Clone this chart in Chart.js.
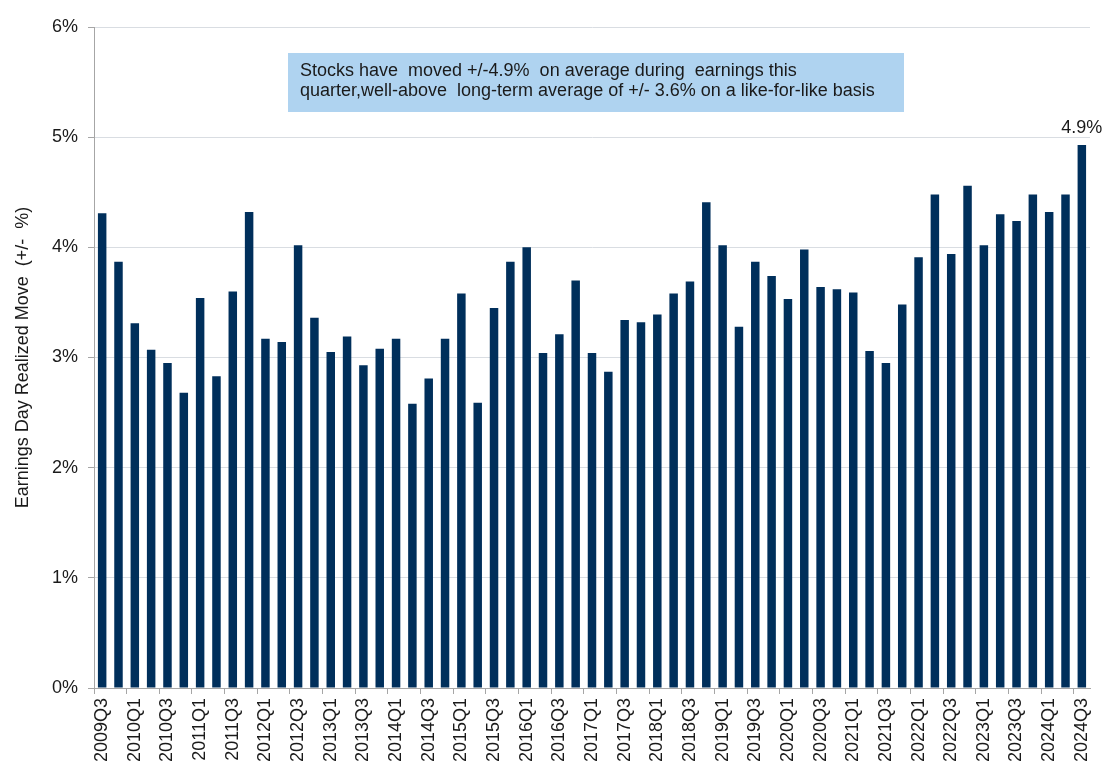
<!DOCTYPE html>
<html>
<head>
<meta charset="utf-8">
<script src="https://cdn.jsdelivr.net/npm/chart.js@4"></script>
<style>
  body { margin: 0; background: #fff; }
</style>
</head>
<body>
<canvas id="chart" width="1116" height="781"></canvas>
<script>
const quarters = [
  '2009Q3', '2009Q4',
  '2010Q1', '2010Q2', '2010Q3', '2010Q4',
  '2011Q1', '2011Q2', '2011Q3', '2011Q4',
  '2012Q1', '2012Q2', '2012Q3', '2012Q4',
  '2013Q1', '2013Q2', '2013Q3', '2013Q4',
  '2014Q1', '2014Q2', '2014Q3', '2014Q4',
  '2015Q1', '2015Q2', '2015Q3', '2015Q4',
  '2016Q1', '2016Q2', '2016Q3', '2016Q4',
  '2017Q1', '2017Q2', '2017Q3', '2017Q4',
  '2018Q1', '2018Q2', '2018Q3', '2018Q4',
  '2019Q1', '2019Q2', '2019Q3', '2019Q4',
  '2020Q1', '2020Q2', '2020Q3', '2020Q4',
  '2021Q1', '2021Q2', '2021Q3', '2021Q4',
  '2022Q1', '2022Q2', '2022Q3', '2022Q4',
  '2023Q1', '2023Q2', '2023Q3', '2023Q4',
  '2024Q1', '2024Q2', '2024Q3'
];

// earnings day realized move, +/- %
const moves = [
  4.31, 3.87,
  3.31, 3.07, 2.95, 2.68,
  3.54, 2.83, 3.60, 4.32,
  3.17, 3.14, 4.02, 3.36,
  3.05, 3.19, 2.93, 3.08,
  3.17, 2.58, 2.81, 3.17,
  3.58, 2.59, 3.45, 3.87,
  4.00, 3.04, 3.21, 3.70,
  3.04, 2.87, 3.34, 3.32,
  3.39, 3.58, 3.69, 4.41,
  4.02, 3.28, 3.87, 3.74,
  3.53, 3.98, 3.64, 3.62,
  3.59, 3.06, 2.95, 3.48,
  3.91, 4.48, 3.94, 4.56,
  4.02, 4.30, 4.24, 4.48,
  4.32, 4.48, 4.93
];

const yTicks = [0, 1, 2, 3, 4, 5, 6];

const noteLines = [
  'Stocks have  moved +/-4.9%  on average during  earnings this',
  'quarter,well-above  long-term average of +/- 3.6% on a like-for-like basis'
];
const lastLabel = '4.9%';

const font = '"Liberation Sans", Arial, sans-serif';
const axisGrey = '#a6a6a6';

const notePlugin = {
  id: 'note',
  afterDraw(chart) {
    const ctx = chart.ctx;
    const area = chart.chartArea;
    ctx.save();
    // annotation box
    const bx = area.left + 194, by = area.top + 26;
    ctx.fillStyle = '#afd3f0';
    ctx.fillRect(bx, by, 616, 59);
    ctx.fillStyle = '#1a1a1a';
    ctx.font = '18px ' + font;
    ctx.textBaseline = 'alphabetic';
    ctx.textAlign = 'left';
    noteLines.forEach((t, i) => ctx.fillText(t, bx + 12, by + 23 + i * 20));

    // value label on the last bar
    const meta = chart.getDatasetMeta(0);
    const bar = meta.data[meta.data.length - 1];
    ctx.textAlign = 'center';
    ctx.fillText(lastLabel, bar.x, bar.y - 12);
    ctx.restore();
  }
};

new Chart(document.getElementById('chart').getContext('2d'), {
  type: 'bar',
  data: {
    labels: quarters,
    datasets: [{
      data: moves,
      backgroundColor: '#002f5b',
      barPercentage: 0.52,
      categoryPercentage: 1.0
    }]
  },
  options: {
    responsive: false,
    animation: false,
    layout: { padding: { top: 27, right: 26, left: 0, bottom: 0 } },
    plugins: {
      legend: { display: false },
      tooltip: { enabled: false }
    },
    scales: {
      x: {
        afterFit(scale) { scale.height = 93; },
        border: { color: axisGrey, width: 1 },
        grid: {
          offset: true,
          drawOnChartArea: false,
          tickLength: 6,
          tickColor: c => (c.index !== undefined && c.index % 2 === 0) ? axisGrey : 'rgba(0,0,0,0)'
        },
        ticks: {
          autoSkip: false,
          minRotation: 90,
          maxRotation: 90,
          padding: 4,
          color: '#1a1a1a',
          font: { family: font, size: 18 },
          callback: (v, i) => i % 2 === 0 ? quarters[i] : ''
        }
      },
      y: {
        min: yTicks[0],
        max: yTicks[yTicks.length - 1],
        afterFit(scale) { scale.width = 94; },
        afterBuildTicks(scale) { scale.ticks = yTicks.map(v => ({ value: v })); },
        border: { color: axisGrey, width: 1 },
        grid: {
          color: '#d9dde2',
          tickColor: axisGrey,
          tickLength: 6,
          lineWidth: 1
        },
        ticks: {
          padding: 10,
          color: '#1a1a1a',
          font: { family: font, size: 18 },
          callback: v => v + '%'
        },
        title: {
          display: true,
          text: 'Earnings Day Realized Move  (+/-  %)',
          color: '#1a1a1a',
          font: { family: font, size: 18 },
          padding: { top: 12, bottom: 0 }
        }
      }
    }
  },
  plugins: [notePlugin]
});
</script>
</body>
</html>
